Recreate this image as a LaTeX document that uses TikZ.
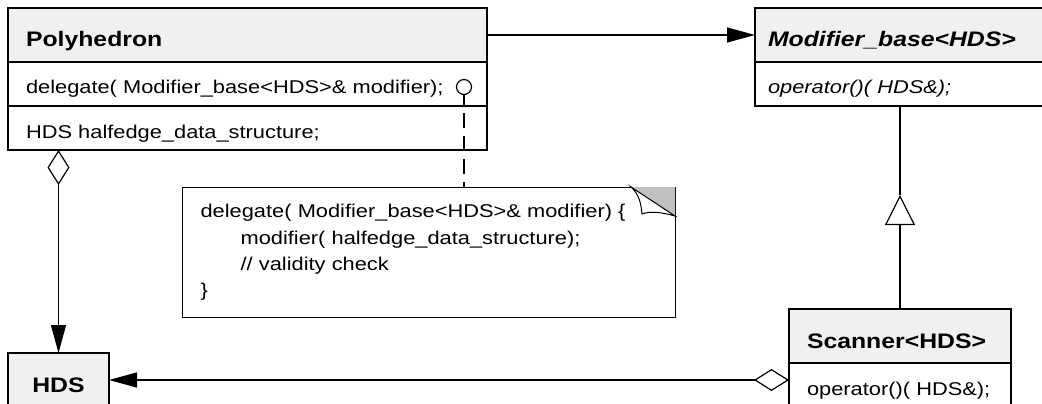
\documentclass[tikz,border=0pt]{standalone}
\usepackage{fontspec}
\setmainfont{Liberation Sans}[FakeStretch=1.18]
\usetikzlibrary{arrows.meta}
\usetikzlibrary{positioning}

\tikzset{
  umlhdr/.style={draw, line width=1.2pt, outer sep=0pt, fill=black!6, minimum height=54pt,
    text height=24pt, text depth=0pt, inner xsep=18pt, align=left,
    font=\fontsize{21}{25}\selectfont\bfseries},
  umlrow/.style={draw, line width=1.2pt, outer sep=0pt, minimum height=44pt,
    text height=20pt, text depth=0pt, inner xsep=18pt, align=left,
    font=\fontsize{18.5}{22}\selectfont},
  notebox/.style={draw, line width=1.2pt, anchor=north west, inner xsep=18pt,
    align=left, font=\fontsize{18.5}{26.3}\selectfont},
  assoc/.style={line width=1.2pt, -{Triangle[length=28pt,width=15pt]}},
  aggr/.style={line width=1.2pt,
    {Diamond[open,length=35pt,width=22pt]}-{Triangle[length=28pt,width=15pt]}},
  gen/.style={line width=1.2pt, -{Triangle[open,length=30pt,width=30pt]}}
}

\begin{document}
\begin{tikzpicture}[x=1pt,y=-1pt]
\clip (0,0) rectangle (1042,404);

\node[umlhdr, anchor=north west, text width=443pt] (polyhdr) at (8,8) {Polyhedron};
\node[umlrow, below=0pt of polyhdr, text width=443pt] (polyops)
  {delegate( Modifier\_base<HDS>\& modifier);};
\node[umlrow, below=0pt of polyops, text width=443pt] (polyattr)
  {HDS halfedge\_data\_structure;};

\node[umlhdr, anchor=north west, inner xsep=13pt, text width=264pt] (modhdr) at (755,8)
  {\itshape Modifier\_base<HDS>};
\node[umlrow, below=0pt of modhdr, inner xsep=13pt, text width=264pt] (modops)
  {\itshape operator()( HDS\&);};

\node[umlhdr, anchor=north west, text width=186pt] (scanhdr) at (789,309) {Scanner<HDS>};
\node[umlrow, below=0pt of scanhdr, text width=186pt] (scanops) {operator()( HDS\&);};

\node[umlhdr, anchor=north west, align=center, text width=65pt] (hds) at (8,353) {HDS};

\node[notebox, text width=457pt, minimum height=130pt] (note) at (182,187)
  {delegate( Modifier\_base<HDS>\& modifier) \{\\
   \hspace*{40pt}modifier( halfedge\_data\_structure);\\
   \hspace*{40pt}// validity check\\
   \}};
\fill[black!25]
     (631,187) -- (675,187) -- (675,216) -- cycle;
\filldraw[line width=1pt, fill=white]
     (631,187)
  .. controls (640,195) and (641,205) .. (642,214)
  .. controls (650,211) and (661,212) .. (675,216)
  -- cycle;

\node[circle, draw, line width=1.2pt, minimum size=15pt, inner sep=0pt] (lolly) at (464,87) {};
\draw[line width=1.2pt] (lolly.south) -- (lolly.south |- polyops.south);
\draw[line width=1.2pt, dash pattern=on 15pt off 8pt, dash phase=16pt]
     (lolly.south |- polyops.south) -- (lolly.south |- note.north);

\draw[assoc] (polyhdr.east) -- (modhdr.west);
\draw[aggr] (polyattr.south -| hds.north) -- (hds.north);
\draw[aggr] (scanops.west |- hds.east) -- (hds.east);

\coordinate (gtip) at ([yshift=-89pt]modops.south);
\draw[gen] (scanhdr.north) -- (gtip);
\draw[line width=1.2pt] (gtip) -- (modops.south);
\end{tikzpicture}
\end{document}
